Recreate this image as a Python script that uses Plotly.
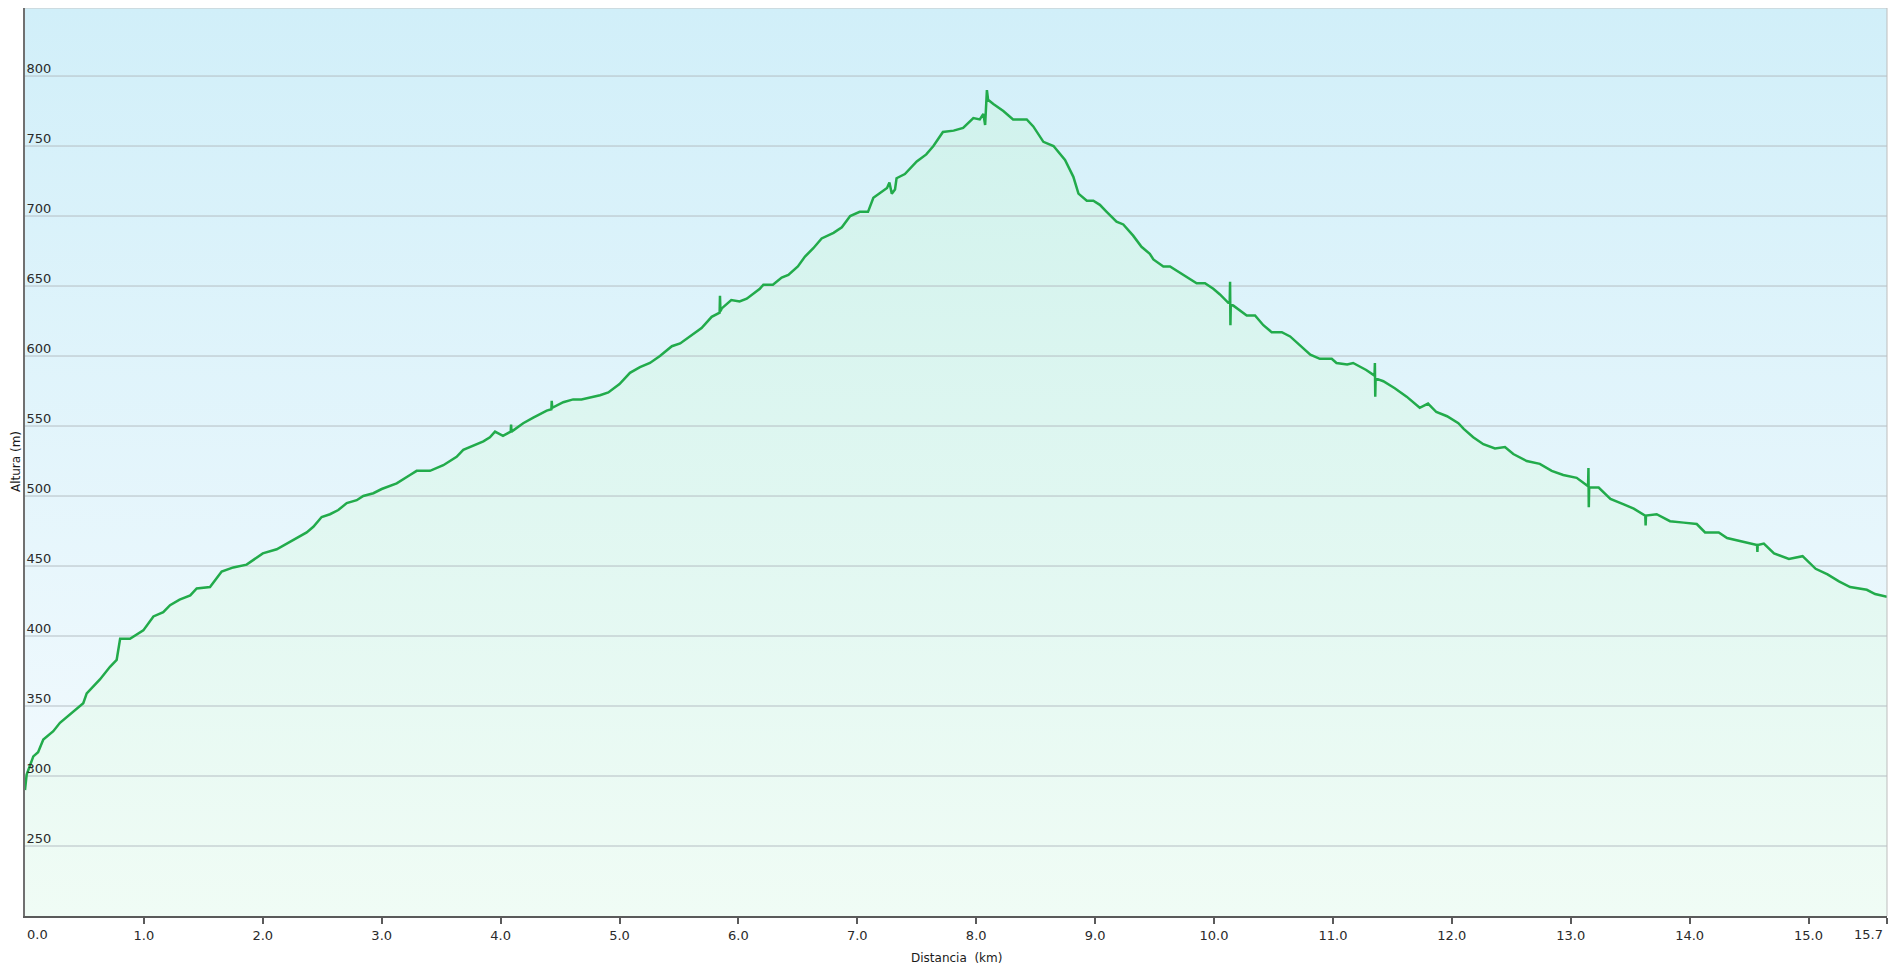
import plotly.graph_objects as go

# ---- data ----
DIST = [0.00, 0.014, 0.07, 0.11, 0.154, 0.238, 0.294, 0.378, 0.49, 0.519, 0.63, 0.715, 0.771, 0.80, 0.883,
        0.995, 1.08, 1.163, 1.22, 1.30, 1.39, 1.444, 1.556, 1.654, 1.752, 1.864, 2.0, 2.117, 2.257, 2.369,
        2.425, 2.495, 2.565, 2.635, 2.706, 2.79, 2.845, 2.93, 3.0, 3.126, 3.238, 3.294, 3.406, 3.518, 3.63,
        3.686, 3.855, 3.91, 3.953, 4.02, 4.085, 4.088, 4.092, 4.107, 4.19, 4.275, 4.388, 4.427, 4.43, 4.434,
        4.527, 4.61, 4.68, 4.836, 4.906, 5.0, 5.088, 5.172, 5.256, 5.34, 5.44, 5.51, 5.62, 5.69, 5.775, 5.83,
        5.842, 5.845, 5.849, 5.86, 5.94, 6.01, 6.07, 6.18, 6.21, 6.29, 6.364, 6.42, 6.50, 6.56, 6.63, 6.70,
        6.80, 6.87, 6.94, 7.02, 7.09, 7.135, 7.205, 7.25, 7.27, 7.29, 7.317, 7.33, 7.40, 7.443, 7.50, 7.58,
        7.64, 7.72, 7.81, 7.89, 7.976, 8.03, 8.06, 8.075, 8.09, 8.10, 8.144, 8.228, 8.31, 8.425, 8.48, 8.565,
        8.65, 8.747, 8.817, 8.86, 8.93, 8.985, 9.04, 9.097, 9.18, 9.237, 9.32, 9.39, 9.46, 9.49, 9.574, 9.63,
        9.686, 9.77, 9.854, 9.924, 9.994, 10.05, 10.12, 10.132, 10.135, 10.138, 10.141, 10.163, 10.275,
        10.345, 10.415, 10.485, 10.57, 10.64, 10.72, 10.81, 10.89, 10.99, 11.03, 11.12, 11.17, 11.28, 11.35,
        11.353, 11.356, 11.359, 11.424, 11.52, 11.62, 11.73, 11.80, 11.87, 11.96, 12.055, 12.10, 12.18,
        12.265, 12.363, 12.447, 12.517, 12.63, 12.74, 12.84, 12.937, 13.05, 13.146, 13.149, 13.152, 13.155,
        13.235, 13.334, 13.446, 13.53, 13.627, 13.63, 13.633, 13.723, 13.835, 13.95, 14.06, 14.13, 14.245,
        14.315, 14.455, 14.567, 14.57, 14.573, 14.624, 14.71, 14.835, 14.95, 15.06, 15.16, 15.256, 15.35,
        15.49, 15.56, 15.66]

ELEV = [290, 301, 314, 317, 326, 332, 338, 344, 352, 359, 369, 378, 383, 398, 398,
        404, 414, 417, 422, 426, 429, 434, 435, 446, 449, 451, 459, 462, 469, 474,
        478, 485, 487, 490, 495, 497, 500, 502, 505, 509, 515, 518, 518, 522, 528,
        533, 539, 542, 546, 543, 546, 551, 546, 547, 552, 556, 561, 562, 568, 563,
        567, 569, 569, 572, 574, 580, 588, 592, 595, 600, 607, 609, 616, 620, 628, 630,
        631, 643, 632, 634, 640, 639, 641, 648, 651, 651, 656, 658, 664, 671, 677, 684,
        688, 692, 700, 703, 703, 713, 717, 720, 724, 716, 719, 727, 730, 734, 739, 744,
        750, 760, 761, 763, 770, 769, 773, 765, 790, 783, 780, 775, 769, 769, 764, 753,
        750, 740, 728, 716, 711, 711, 708, 703, 696, 694, 686, 678, 673, 669, 664, 664,
        661, 656, 652, 652, 648, 644, 638, 638, 653, 622, 637, 636, 629,
        629, 622, 617, 617, 614, 608, 601, 598, 598, 595, 594, 595, 590, 586,
        595, 571, 584, 582, 577, 571, 563, 566, 560, 557, 552, 548, 542,
        537, 534, 535, 530, 525, 523, 518, 515, 513, 507, 520, 492, 506,
        506, 498, 494, 491, 486, 479, 486, 487, 482, 481, 480, 474, 474,
        470, 467, 465, 460, 465, 466, 459, 455, 457, 448, 444, 439, 435,
        433, 430, 428]

X_TICKS = [0, 1, 2, 3, 4, 5, 6, 7, 8, 9, 10, 11, 12, 13, 14, 15, 15.66]
X_TICK_TEXT = ["0.0", "1.0", "2.0", "3.0", "4.0", "5.0", "6.0", "7.0", "8.0", "9.0",
               "10.0", "11.0", "12.0", "13.0", "14.0", "15.0", "15.7"]
Y_TICKS = [250, 300, 350, 400, 450, 500, 550, 600, 650, 700, 750, 800]

X_MIN, X_MAX = 0, 15.66
Y_MIN, Y_MAX = 200, 848.6

fig = go.Figure()

# background gradient (sky)
fig.add_trace(go.Scatter(
    x=[X_MIN, X_MAX, X_MAX, X_MIN, X_MIN], y=[Y_MIN, Y_MIN, Y_MAX, Y_MAX, Y_MIN],
    fill="toself", mode="none", hoverinfo="skip", showlegend=False,
    fillgradient=dict(type="vertical", start=Y_MIN, stop=Y_MAX,
                      colorscale=[[0, "#f6fbfe"], [1, "#d1eff9"]])))

# area under profile
fig.add_trace(go.Scatter(
    x=DIST, y=ELEV, fill="tozeroy", mode="none", hoverinfo="skip", showlegend=False,
    fillgradient=dict(type="vertical", start=Y_MIN, stop=Y_MAX,
                      colorscale=[[0, "#f0fcf5"], [1, "#cdf1ec"]])))

# horizontal grid lines drawn above the fills
gx, gy = [], []
for t in Y_TICKS:
    gx += [X_MIN, X_MAX, None]
    gy += [t, t, None]
fig.add_trace(go.Scatter(x=gx, y=gy, mode="lines", hoverinfo="skip", showlegend=False,
                         line=dict(color="#b5bec4", width=1)))

# profile line
fig.add_trace(go.Scatter(x=DIST, y=ELEV, mode="lines", showlegend=False,
                         line=dict(color="#22ab4b", width=2.5)))

font_family = "DejaVu Sans, Verdana, sans-serif"

# inner tick texts; the two edge labels are drawn as annotations aligned inward
tick_text_inner = [t if i not in (0, len(X_TICK_TEXT) - 1) else "" for i, t in enumerate(X_TICK_TEXT)]

fig.update_layout(
    width=1895, height=967,
    margin=dict(l=17, r=16, t=0, b=59),
    paper_bgcolor="white", plot_bgcolor="white",
    font=dict(family=font_family, size=13, color="#2a2a2a"),
    xaxis=dict(range=[X_MIN, X_MAX], tickvals=X_TICKS, ticktext=tick_text_inner,
               showgrid=False, zeroline=False, showline=True, linecolor="#5a5a5a", linewidth=2,
               ticks="outside", ticklen=6, tickcolor="#5a5a5a", tickwidth=1.5,
               tickfont=dict(size=13, color="#2a2a2a")),
    yaxis=dict(range=[Y_MIN, Y_MAX], tickvals=Y_TICKS, showgrid=False, zeroline=False,
               showline=True, linecolor="#707070", linewidth=2, ticks="",
               ticklabelposition="inside", ticklabelshift=-8, ticklabelstandoff=1,
               tickfont=dict(size=13, color="#2a2a2a")),
    annotations=[
        dict(text="Altura (m)", xref="paper", yref="paper", x=0, y=0.5, xanchor="center",
             yanchor="middle", textangle=-90, xshift=-9, showarrow=False,
             font=dict(size=12, color="#1a1a1a")),
        dict(text="Distancia\u00a0 (km)", xref="paper", yref="paper", x=0.5, y=0, xanchor="center",
             yanchor="middle", yshift=-42, showarrow=False, font=dict(size=12, color="#1a1a1a")),
        dict(text=X_TICK_TEXT[0], xref="x", yref="paper", x=X_TICKS[0], y=0, xanchor="left",
             yanchor="middle", xshift=0, yshift=-18, showarrow=False,
             font=dict(size=13, color="#2a2a2a")),
        dict(text=X_TICK_TEXT[-1], xref="x", yref="paper", x=X_TICKS[-1], y=0, xanchor="right",
             yanchor="middle", xshift=-2, yshift=-18, showarrow=False,
             font=dict(size=13, color="#2a2a2a")),
    ],
    shapes=[
        dict(type="line", xref="paper", yref="paper", x0=0, x1=1, y0=1, y1=1,
             line=dict(color="#c8c8c8", width=1)),
        dict(type="line", xref="paper", yref="paper", x0=1, x1=1, y0=0, y1=1,
             line=dict(color="#bdbdbd", width=1)),
        dict(type="rect", xref="paper", yref="paper", x0=(1887 - 17) / 1862, x1=(1897 - 17) / 1862,
             y0=-60 / 908, y1=1.01, line=dict(width=0), fillcolor="#ececec"),
    ],
)

fig.write_html("out.html")
